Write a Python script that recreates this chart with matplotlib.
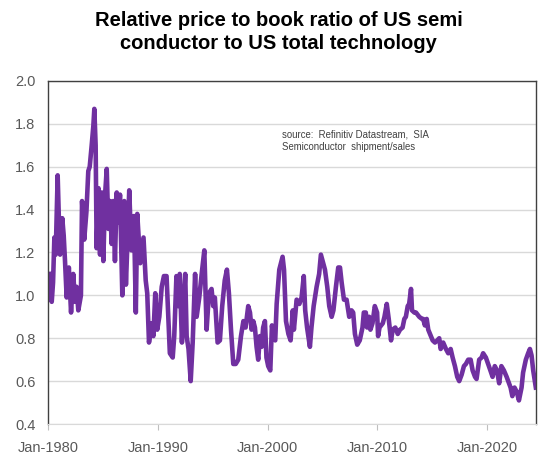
import matplotlib.pyplot as plt

plt.rcParams['font.family'] = ['Liberation Sans', 'DejaVu Sans']

# decimal years (x axis runs Jan-1980 .. mid-2024)
years = [
    1980.09, 1980.2, 1980.34, 1980.46, 1980.58, 1980.7, 1980.88,
    1981.0, 1981.1, 1981.3, 1981.43, 1981.55, 1981.7, 1981.9,
    1982.1, 1982.3, 1982.46, 1982.6, 1982.76,
    1983.0, 1983.1, 1983.3, 1983.5, 1983.67, 1983.8, 1983.98,
    1984.13, 1984.22, 1984.34, 1984.43, 1984.6, 1984.74, 1984.9,
    1985.04, 1985.2, 1985.35, 1985.5, 1985.65, 1985.8, 1985.95,
    1986.1, 1986.26, 1986.4, 1986.56, 1986.77, 1986.95,
    1987.1, 1987.4, 1987.6, 1987.83,
    1988.0, 1988.13, 1988.4, 1988.7, 1988.9,
    1989.04, 1989.2, 1989.44, 1989.6, 1989.77, 1989.95,
    1990.14, 1990.36, 1990.56, 1990.8, 1990.96,
    1991.1, 1991.36, 1991.5, 1991.7, 1991.87,
    1992.0, 1992.2, 1992.3, 1992.5, 1992.63, 1992.8,
    1993.0, 1993.18, 1993.4, 1993.54, 1993.78,
    1994.0, 1994.24, 1994.45, 1994.66, 1994.9,
    1995.05, 1995.2, 1995.45, 1995.66, 1995.87,
    1996.1, 1996.3, 1996.48, 1996.67, 1996.88,
    1997.1, 1997.33, 1997.58, 1997.8,
    1998.0, 1998.24, 1998.4, 1998.55, 1998.7, 1998.85,
    1999.0, 1999.15, 1999.3, 1999.46, 1999.6, 1999.76, 1999.9,
    2000.06, 2000.25, 2000.4, 2000.55, 2000.7, 2000.83,
    2001.07, 2001.37, 2001.5, 2001.68, 2001.9,
    2002.1, 2002.3, 2002.4, 2002.65, 2002.9,
    2003.1, 2003.3, 2003.43, 2003.6, 2003.86,
    2004.0, 2004.2, 2004.47, 2004.7, 2004.86,
    2005.07, 2005.23, 2005.44, 2005.62, 2005.84,
    2006.0, 2006.23, 2006.44, 2006.6, 2006.75, 2006.96,
    2007.2, 2007.44, 2007.65, 2007.8, 2007.96,
    2008.17, 2008.4, 2008.65, 2008.77, 2008.95,
    2009.07, 2009.26, 2009.37, 2009.56, 2009.77, 2009.98,
    2010.07, 2010.2, 2010.5, 2010.65, 2010.86,
    2011.04, 2011.25, 2011.4, 2011.64, 2011.86,
    2012.07, 2012.3, 2012.46, 2012.6, 2012.77, 2012.9,
    2013.07, 2013.16, 2013.37, 2013.52, 2013.82,
    2014.07, 2014.18, 2014.33, 2014.5, 2014.64, 2014.8,
    2015.04, 2015.25, 2015.46, 2015.64, 2015.77,
    2016.0, 2016.25, 2016.46, 2016.68, 2016.86,
    2017.07, 2017.28, 2017.46, 2017.68, 2017.89,
    2018.07, 2018.28, 2018.5, 2018.68, 2018.9,
    2019.04, 2019.28, 2019.5, 2019.64, 2019.89,
    2020.1, 2020.3, 2020.5, 2020.7, 2020.9,
    2021.1, 2021.3, 2021.53, 2021.78, 2021.92,
    2022.14, 2022.3, 2022.5, 2022.7, 2022.9,
    2023.14, 2023.28, 2023.53, 2023.74, 2023.9,
    2024.05, 2024.2, 2024.35, 2024.44,
]

# relative price to book ratio, semis vs total technology
ratio = [
    1.10, 1.00, 0.97, 1.06, 1.27, 1.19, 1.56,
    1.34, 1.19, 1.36, 1.28, 1.16, 0.99, 1.13,
    0.92, 1.10, 0.97, 1.04, 0.93,
    1.00, 1.44, 1.26, 1.39, 1.58, 1.60, 1.70,
    1.79, 1.87, 1.70, 1.22, 1.50, 1.19, 1.48,
    1.16, 1.47, 1.59, 1.31, 1.44, 1.24, 1.44,
    1.16, 1.48, 1.34, 1.47, 1.00, 1.44,
    1.05, 1.49, 1.21, 1.37,
    0.92, 1.38, 1.15, 1.27, 1.07,
    1.01, 0.78, 0.87, 0.81, 1.01, 0.84,
    0.90, 1.04, 1.09, 1.09, 0.90,
    0.73, 0.71, 0.81, 1.09, 0.95,
    1.10, 0.78, 0.90, 1.10, 0.81, 0.75,
    0.60, 0.78, 1.10, 0.90, 0.99,
    1.10, 1.21, 0.84, 1.01, 1.03,
    0.95, 0.99, 0.78, 0.79, 0.95,
    1.07, 1.12, 1.01, 0.84, 0.68,
    0.68, 0.70, 0.81, 0.88,
    0.85, 0.95, 0.92, 0.84, 0.88, 0.85,
    0.76, 0.70, 0.81, 0.76, 0.85, 0.88, 0.71,
    0.67, 0.65, 0.86, 0.80, 0.79, 0.96,
    1.12, 1.18, 1.12, 0.88, 0.82,
    0.79, 0.93, 0.84, 0.98, 0.96,
    0.99, 1.09, 0.93, 0.85, 0.76,
    0.85, 0.95, 1.04, 1.10, 1.19,
    1.15, 1.12, 1.04, 0.95, 0.90,
    0.93, 1.04, 1.13, 1.13, 1.06, 0.98,
    0.98, 0.90, 0.93, 0.92, 0.82,
    0.77, 0.79, 0.85, 0.92, 0.92,
    0.85, 0.90, 0.84, 0.87, 0.95, 0.92,
    0.81, 0.85, 0.87, 0.90, 0.96,
    0.89, 0.79, 0.84, 0.85, 0.82,
    0.84, 0.85, 0.89, 0.90, 0.95, 0.96,
    1.03, 0.93, 0.92, 0.92, 0.90,
    0.89, 0.89, 0.86, 0.89, 0.84, 0.82,
    0.79, 0.78, 0.79, 0.80, 0.75,
    0.78, 0.75, 0.73, 0.75, 0.71,
    0.67, 0.62, 0.60, 0.63, 0.67,
    0.68, 0.70, 0.70, 0.65, 0.62,
    0.61, 0.70, 0.71, 0.73, 0.71,
    0.68, 0.65, 0.62, 0.67, 0.65,
    0.59, 0.67, 0.65, 0.62, 0.60,
    0.57, 0.53, 0.57, 0.55, 0.51,
    0.57, 0.64, 0.70, 0.73, 0.75,
    0.72, 0.65, 0.60, 0.57,
]

tick_years = [1980, 1990, 2000, 2010, 2020]
tick_labels = ['Jan-1980', 'Jan-1990', 'Jan-2000', 'Jan-2010', 'Jan-2020']
y_ticks = [0.4, 0.6, 0.8, 1.0, 1.2, 1.4, 1.6, 1.8, 2.0]

fig = plt.figure(figsize=(5.43, 4.57), dpi=100)
ax = fig.add_axes([0.0884, 0.0722, 0.8986, 0.7506])

ax.plot(years, ratio, color='#7030A0', lw=3.3)

ax.set_xlim(1980, 2024.45)
ax.set_ylim(0.4, 2.0)
ax.set_xticks(tick_years)
ax.set_xticklabels(tick_labels)
ax.set_yticks(y_ticks)
ax.set_yticklabels([f'{v:.1f}' for v in y_ticks])

ax.grid(axis='y', color='#d9d9d9', lw=1)
ax.set_axisbelow(True)
ax.tick_params(axis='y', length=0, labelsize=10.5, labelcolor='#595959', pad=9)
ax.tick_params(axis='x', length=4, color='#bfbfbf', labelsize=10.5,
               labelcolor='#595959', pad=8)

for side in ['left', 'top', 'right']:
    ax.spines[side].set_color('#404040')
    ax.spines[side].set_linewidth(1)
ax.spines['bottom'].set_color('#d9d9d9')

ax.text(0.48, 0.858, 'source:  Refinitiv Datastream,  SIA\nSemiconductor  shipment/sales',
        transform=ax.transAxes, fontsize=6.9, color='#404040', va='top', ha='left',
        linespacing=1.3)

fig.text(0.513, 0.975, 'Relative price to book ratio of US semi\nconductor to US total technology',
         ha='center', va='top', fontsize=14.5, fontweight='bold', linespacing=1.25)

fig.savefig('out.png', dpi=100)
